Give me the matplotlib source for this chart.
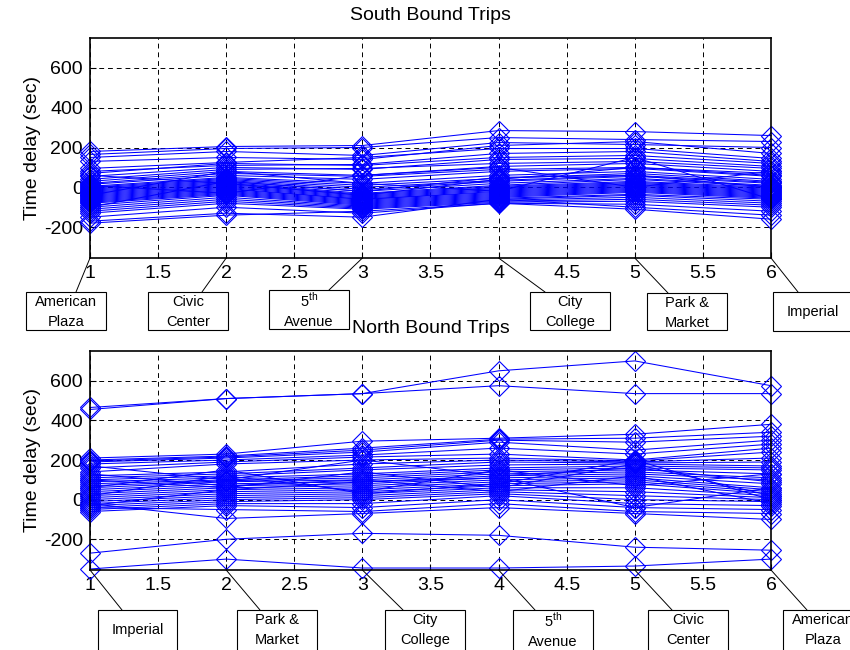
import matplotlib
matplotlib.use('Agg')
import matplotlib.pyplot as plt
from matplotlib.patches import Rectangle, ConnectionPatch

plt.rcParams['font.family'] = ['Liberation Sans', 'DejaVu Sans']
plt.rcParams['mathtext.fontset'] = 'custom'
plt.rcParams['mathtext.rm'] = 'Liberation Sans'
plt.rcParams['axes.unicode_minus'] = False

stations = [1, 2, 3, 4, 5, 6]

# time delay (sec) per trip at each stop, south bound
south = [
    [180, 205, 210, 285, 280, 260],
    [165, 195, 200, 250, 240, 230],
    [150, 180, 160, 225, 215, 200],
    [130, 150, 140, 210, 230, 170],
    [95, 125, 150, 195, 195, 145],
    [80, 110, 115, 170, 180, 130],
    [70, 120, 110, 150, 160, 120],
    [55, 100, 90, 140, 145, 105],
    [40, 90, 95, 120, 130, 95],
    [30, 80, 60, 105, 120, 80],
    [20, 70, 55, 90, 100, 70],
    [15, 60, 40, 80, 95, 55],
    [5, 50, 20, 60, 80, 40],
    [0, 45, 10, 45, 70, 30],
    [-5, 40, 0, 35, 60, 25],
    [-10, 35, -10, 30, 55, 20],
    [-15, 30, -20, 20, 45, 10],
    [-20, 25, -30, 10, 40, 5],
    [-25, 20, -35, 5, 30, 0],
    [-30, 15, -40, 0, 25, -5],
    [-35, 10, -45, -5, 20, -10],
    [-40, 5, -50, -10, 15, -15],
    [-45, 0, -55, -15, 10, -20],
    [-50, -5, -60, -20, 5, -25],
    [-55, -10, -60, -25, 0, -30],
    [-60, -15, -65, -30, -5, -35],
    [-65, -20, -70, -35, -10, -40],
    [-70, -25, -75, -40, -15, -45],
    [-75, -30, -80, -45, -20, -50],
    [-80, -35, -85, -50, -25, -55],
    [-90, -40, -90, -55, -35, -60],
    [-100, -50, -95, -60, -40, -70],
    [-110, -60, -100, -65, -50, -80],
    [-120, -70, -105, -70, -60, -90],
    [-130, -80, -110, -75, -70, -100],
    [-150, -100, -130, -80, -85, -120],
    [-170, -130, -150, -60, -100, -140],
    [-180, -140, -120, -80, -110, -160],
    [60, 20, -40, 40, 100, 60],
    [-40, 80, 20, -20, 150, -60],
    [10, -30, 60, 100, 0, 80],
    [-100, 30, -20, 50, 60, 0],
]

# north bound
north = [
    [465, 510, 535, 650, 700, 575],
    [455, 510, 535, 575, 535, 535],
    [210, 230, 295, 310, 330, 380],
    [200, 220, 260, 305, 310, 340],
    [195, 215, 250, 300, 290, 320],
    [190, 210, 240, 290, 250, 300],
    [180, 200, 225, 260, 230, 280],
    [160, 190, 215, 230, 200, 260],
    [140, 180, 200, 210, 195, 240],
    [120, 140, 180, 200, 190, 210],
    [110, 130, 160, 190, 185, 190],
    [100, 120, 150, 175, 180, 170],
    [90, 110, 130, 160, 170, 160],
    [80, 100, 120, 150, 160, 150],
    [70, 95, 110, 140, 150, 130],
    [60, 90, 100, 130, 140, 110],
    [50, 80, 90, 120, 130, 100],
    [40, 70, 80, 110, 120, 80],
    [30, 60, 70, 100, 110, 60],
    [20, 50, 60, 90, 100, 50],
    [10, 40, 50, 80, 90, 40],
    [0, 30, 40, 70, 80, 30],
    [-10, 20, 30, 60, 60, 20],
    [-20, 10, 20, 50, 40, 10],
    [-30, 0, 10, 40, 20, 0],
    [-40, -10, 0, 30, 0, -10],
    [-50, -20, -20, 20, -20, -30],
    [-60, -30, -40, 0, -40, -50],
    [-40, -50, -60, -20, -60, -70],
    [-20, -95, -70, -40, -70, -100],
    [-270, -200, -170, -180, -240, -255],
    [-350, -300, -345, -345, -335, -300],
    [100, 60, 140, 60, 180, 20],
    [20, 120, 40, 150, 70, 130],
    [130, 70, 100, 40, 120, -20],
    [-30, 50, 90, 110, -40, 60],
    [60, 150, 30, 80, 200, 0],
    [170, 100, 200, 120, 160, 90],
]

south_stops = ['American\nPlaza', 'Civic\nCenter', '5$^{\\mathrm{th}}$\nAvenue',
               'City\nCollege', 'Park &\nMarket', 'Imperial']
north_stops = ['Imperial', 'Park &\nMarket', 'City\nCollege',
               '5$^{\\mathrm{th}}$\nAvenue', 'Civic\nCenter', 'American\nPlaza']

ymin, ymax = -355, 750
W, H = 850, 650

fig = plt.figure(figsize=(8.5, 6.5), dpi=100)
ax1 = fig.add_axes([90 / W, 1 - 258 / H, 681 / W, 220 / H])
ax2 = fig.add_axes([90 / W, 1 - 570 / H, 681 / W, 219 / H])


def setup(ax, data, title):
    for trip in data:
        ax.plot(stations, trip, color='b', lw=0.75, marker='D', ms=10,
                mfc='none', mec='b', mew=0.8, clip_on=False)
    ax.set_xlim(1, 6)
    ax.set_ylim(ymin, ymax)
    ax.set_xticks([1, 1.5, 2, 2.5, 3, 3.5, 4, 4.5, 5, 5.5, 6])
    ax.set_xticklabels(['1', '1.5', '2', '2.5', '3', '3.5', '4', '4.5', '5', '5.5', '6'])
    ax.set_yticks([-200, 0, 200, 400, 600])
    ax.tick_params(direction='in', length=4, labelsize=14, pad=5)
    ax.grid(True, color='k', ls=(0, (5, 4)), lw=0.7)
    for s in ax.spines.values():
        s.set_linewidth(1.2)
    ax.set_ylabel('Time delay (sec)', fontsize=14, labelpad=2)
    ax.set_title(title, fontsize=14, pad=13)


setup(ax1, south, 'South Bound Trips')
setup(ax2, north, 'North Bound Trips')

# label boxes: (left, right, top, bottom, line end x) in pixels
south_boxes = [(26, 106, 292, 330, 76), (148, 228, 292, 330, 202),
               (269, 349, 290, 329, 329), (530, 610, 292, 330, 545),
               (647, 727, 293, 330, 668), (773, 853, 292, 331, 798)]
north_boxes = [(98, 177, 610, 652, 122), (237, 317, 610, 652, 260),
               (385, 465, 610, 652, 403), (513, 593, 610, 652, 535),
               (648, 728, 610, 652, 672), (783, 863, 610, 652, 807)]


def label(ax, stops, boxes):
    for st, name, (x0, x1, y0, y1, lx) in zip(stations, stops, boxes):
        fig.add_artist(Rectangle((x0 / W, 1 - y1 / H), (x1 - x0) / W, (y1 - y0) / H,
                                 transform=fig.transFigure, fc='white', ec='k', lw=0.8))
        con = ConnectionPatch(xyA=(st, ymin), coordsA=ax.transData,
                              xyB=(lx / W, 1 - y0 / H), coordsB=fig.transFigure,
                              color='k', lw=0.7)
        fig.add_artist(con)
        fig.text((x0 + x1) / 2 / W, 1 - (y0 + 20) / H, name, ha='center', va='center',
                 fontsize=10.5, linespacing=1.5)


label(ax1, south_stops, south_boxes)
label(ax2, north_stops, north_boxes)

fig.savefig('out.png', dpi=100)
